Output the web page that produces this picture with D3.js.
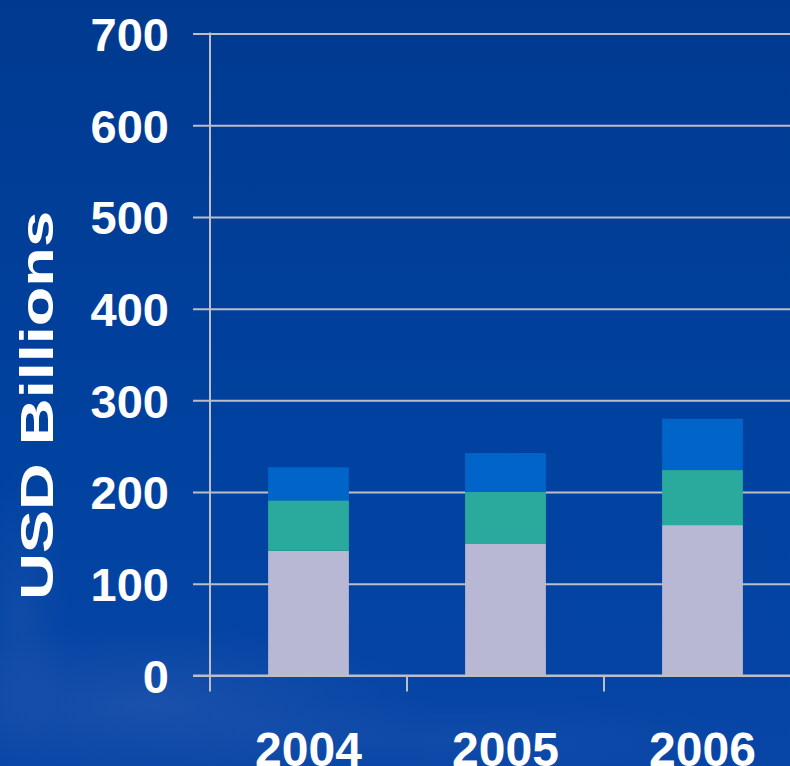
<!DOCTYPE html>
<html>
<head>
<meta charset="utf-8">
<script src="https://cdn.jsdelivr.net/npm/d3@7"></script>
<style>
  html, body { margin: 0; padding: 0; background: #003B92; overflow: hidden; }
  svg { display: block; }
  text { font-family: "Liberation Sans", Arial, Helvetica, sans-serif; font-weight: bold; fill: #ffffff; }
</style>
</head>
<body>
<svg id="chart" width="790" height="766"></svg>
<script>
// ---- data ----
const years = ["2004", "2005", "2006"];
const seriesNames = ["Segment A", "Segment B", "Segment C"];
const segmentA = [136, 144, 164];   // bottom (lavender)
const segmentB = [55, 56, 60];      // middle (teal)
const segmentC = [36, 42.5, 56];    // top (blue)
const yTicks = [0, 100, 200, 300, 400, 500, 600, 700];
const yTitle = "USD Billions";
const colors = ["#B8B8D4", "#2AAA9C", "#0064C8"];

// ---- setup ----
const W = 790, H = 766;
const svg = d3.select("#chart");
const defs = svg.append("defs");

const lg = defs.append("linearGradient").attr("id", "bg").attr("x1", 0).attr("y1", 0).attr("x2", 0).attr("y2", 1);
lg.append("stop").attr("offset", "0%").attr("stop-color", "#003A90");
lg.append("stop").attr("offset", "60%").attr("stop-color", "#0042A0");
lg.append("stop").attr("offset", "100%").attr("stop-color", "#0745A6");

const rg = defs.append("radialGradient").attr("id", "glow").attr("cx", 0.5).attr("cy", 0.5).attr("r", 0.5);
rg.append("stop").attr("offset", "0%").attr("stop-color", "#3F68B8").attr("stop-opacity", 0.35);
rg.append("stop").attr("offset", "100%").attr("stop-color", "#3F68B8").attr("stop-opacity", 0);

svg.append("rect").attr("width", W).attr("height", H).attr("fill", "url(#bg)");
// soft city-light haze at bottom-left
svg.append("ellipse").attr("cx", 150).attr("cy", 705).attr("rx", 280).attr("ry", 80).attr("fill", "url(#glow)");
svg.append("ellipse").attr("cx", 20).attr("cy", 620).attr("rx", 50).attr("ry", 150).attr("fill", "url(#glow)").attr("opacity", 0.6);
svg.append("ellipse").attr("cx", 450).attr("cy", 740).attr("rx", 320).attr("ry", 45).attr("fill", "url(#glow)").attr("opacity", 0.5);

const x0 = 210, x1 = 801, yTop = 33.5, yBot = 675.5;
const x = d3.scaleBand().domain(years).range([x0, x1]).paddingInner(0.59).paddingOuter(0.295);
const y = d3.scaleLinear().domain([0, 700]).range([yBot, yTop]);

const gridColor = "#BDBDC4";

// gridlines + y tick labels via axis
const yAxis = d3.axisLeft(y).tickValues(yTicks).tickSize(-(x1 - x0)).tickSizeOuter(0).tickPadding(24);
const gy = svg.append("g").attr("transform", `translate(${x0},0)`).call(yAxis);
gy.select(".domain").remove();
gy.selectAll(".tick line").attr("stroke", gridColor).attr("stroke-width", 2).attr("x1", -17);
gy.selectAll(".tick text").attr("font-size", 47).attr("fill", "#fff").attr("dy", "0.36em").attr("x", -41);

// stacked bars
const table = years.map((yr, i) => ({ year: yr, a: segmentA[i], b: segmentB[i], c: segmentC[i] }));
const stack = d3.stack().keys(["a", "b", "c"]);
const layers = stack(table);
svg.append("g").selectAll("g").data(layers).join("g")
  .attr("fill", (d, i) => colors[i])
  .selectAll("rect").data(d => d).join("rect")
  .attr("x", d => x(d.data.year))
  .attr("width", x.bandwidth())
  .attr("y", d => y(d[1]))
  .attr("height", d => y(d[0]) - y(d[1]));

// redraw zero line on top of bars
svg.append("line").attr("x1", x0 - 17).attr("x2", x1).attr("y1", y(0)).attr("y2", y(0))
  .attr("stroke", gridColor).attr("stroke-width", 2);

// y axis line
svg.append("line").attr("x1", x0).attr("x2", x0).attr("y1", yTop - 1).attr("y2", yBot + 16)
  .attr("stroke", gridColor).attr("stroke-width", 2);

// x category boundary ticks
const step = x.step();
const boundaries = years.slice(1).map(yr => x(yr) - x.paddingInner() * step / 2);
svg.append("g").selectAll("line").data(boundaries).join("line")
  .attr("x1", d => d).attr("x2", d => d).attr("y1", yBot).attr("y2", yBot + 16)
  .attr("stroke", gridColor).attr("stroke-width", 2);

// x labels (cut by the bottom edge, as in the reference)
svg.append("g").selectAll("text").data(years).join("text")
  .attr("x", d => x(d) + x.bandwidth() / 2)
  .attr("y", 766)
  .attr("text-anchor", "middle")
  .attr("font-size", 48)
  .text(d => d);

// y title (stretched along its length like the reference)
svg.append("text")
  .attr("transform", "translate(53,405.5) rotate(-90) scale(1.38,1)")
  .attr("text-anchor", "middle")
  .attr("font-size", 47)
  .text(yTitle);
</script>
</body>
</html>
